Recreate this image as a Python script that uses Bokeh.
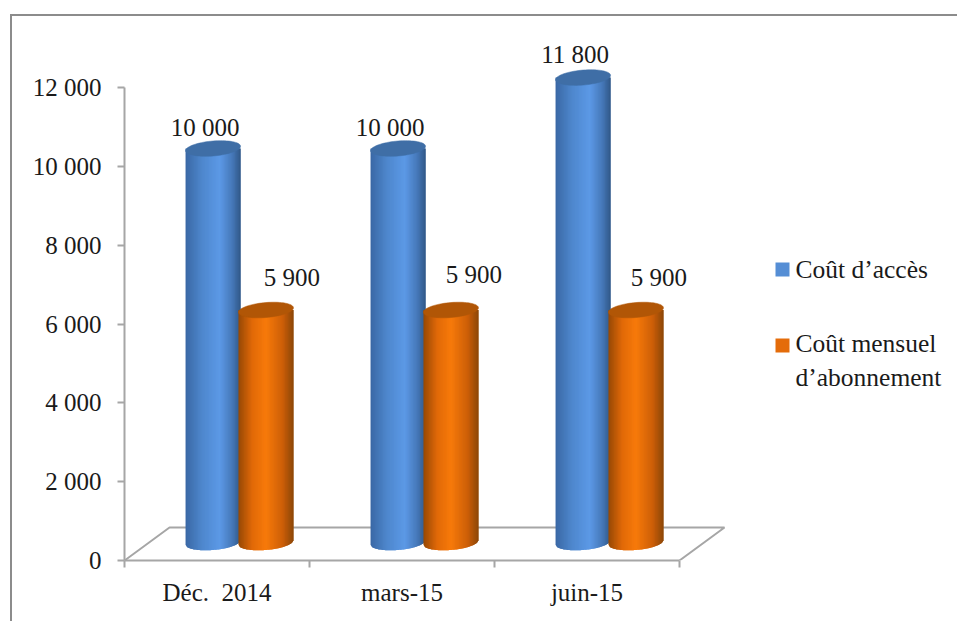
from bokeh.plotting import figure
from bokeh.embed import file_html
from bokeh.resources import INLINE
from bokeh.core.properties import value
from bokeh.models import ColumnDataSource, FixedTicker, Range1d
import math

# ---- data ----
categories = ["Déc.\u00a0 2014", "mars-15", "juin-15"]
cout_acces = [10000, 10000, 11800]
cout_mensuel = [5900, 5900, 5900]
series_names = ["Coût d’accès", "Coût mensuel\nd’abonnement"]
y_ticks = [0, 2000, 4000, 6000, 8000, 10000, 12000]
y_labels = ["0", "2 000", "4 000", "6 000", "8 000", "10 000", "12 000"]
label_texts_a = ["10 000", "10 000", "11 800"]
label_texts_b = ["5 900", "5 900", "5 900"]

# ---- layout of the pseudo 3D drawing (data units) ----
FONT = "Liberation Serif"
FS = "25px"
GREY = "#a6a6a6"
TXT = "#1a1a1a"
PX_X = 185.0      # px per category
PX_Y = 0.0394     # px per value unit
W, H = 957, 621
LEFT, BOTTOM = 124, 61
DEPTH_X = 45 / PX_X
DEPTH_Y = 33 / PX_Y
BASE = 457        # floor position of bar base
BAR_W = 55 / PX_X
OFF_A, OFF_B = 0.33, 0.616
CAP_B = 7.5 / PX_Y
TILT = 2.2 / PX_Y
N = 40

p = figure(width=W, height=H, output_backend="svg", toolbar_location=None,
           x_range=Range1d(0, (W - LEFT) / PX_X), y_range=Range1d(0, (H - BOTTOM) / PX_Y),
           min_border_left=LEFT, min_border_bottom=BOTTOM, min_border_top=0, min_border_right=0)
p.outline_line_color = None
p.grid.visible = False
# chart border (left and top sides; it runs past the page edge)
p.stylesheets = [":host::before{content:'';position:absolute;left:10px;top:14px;width:947px;height:607px;"
                 "box-sizing:border-box;border-left:2px solid #8c8c8c;border-top:2px solid #8c8c8c;"
                 "pointer-events:none;z-index:5;}"]

# floor
fx = [0, DEPTH_X, 3 + DEPTH_X, 3]
fy = [0, DEPTH_Y, DEPTH_Y, 0]
p.line(fx, fy, line_color=GREY, line_width=2)


def mix(a, b, t):
    return tuple(a[i] + (b[i] - a[i]) * t for i in range(3))


def hexc(c):
    return "#%02x%02x%02x" % tuple(int(round(v)) for v in c)


def shade(stops, t):
    for (t0, c0), (t1, c1) in zip(stops, stops[1:]):
        if t <= t1:
            return hexc(mix(c0, c1, (t - t0) / (t1 - t0)))
    return hexc(stops[-1][1])


BLUE = [(0, (58, 104, 165)), (0.3, (78, 135, 205)), (0.62, (92, 153, 230)), (0.85, (70, 120, 185)), (1, (48, 88, 135))]
ORANGE = [(0, (150, 72, 5)), (0.25, (225, 105, 8)), (0.5, (247, 122, 10)), (0.8, (205, 95, 8)), (1, (140, 70, 8))]
CAP_BLUE = "#3f6ea6"
CAP_ORANGE = "#b15606"


def low(u):
    return BASE - CAP_B * math.sqrt(max(0, 1 - u * u)) + TILT * u


def cylinder(x_left, val, stops, cap):
    xs, ys, cols = [], [], []
    top = BASE + val
    for i in range(N):
        # each strip reaches under the next one so no seams show
        j = min(i + 2, N)
        us = [-1 + 2 * k / N for k in range(i, j + 1)]
        px = [x_left + (u + 1) / 2 * BAR_W for u in us]
        xs.append(px + [px[-1], px[0]])
        ys.append([low(u) for u in us] + [top, top])
        cols.append(shade(stops, (i + 0.5) / N))
    src = ColumnDataSource(dict(xs=xs, ys=ys, c=cols))
    p.patches("xs", "ys", source=src, fill_color="c", line_color=None)
    cx = []
    cy = []
    for k in range(73):
        th = 2 * math.pi * k / 72
        cx.append(x_left + BAR_W / 2 + BAR_W / 2 * math.cos(th))
        cy.append(BASE + val + CAP_B * math.sin(th) + TILT * math.cos(th))
    p.patch(cx, cy, fill_color=cap, line_color=cap, line_width=0.5)


for i in range(len(categories)):
    cylinder(i + OFF_A, cout_acces[i], BLUE, CAP_BLUE)
    cylinder(i + OFF_B, cout_mensuel[i], ORANGE, CAP_ORANGE)

# value labels
lab_x, lab_y, lab_t, lab_dx, lab_dy = [], [], [], [], []
dx_a, dy_a = [-8, -8, -8], [21, 21, 23]
dx_b, dy_b = [26, 23, 23], [33, 36, 33]
for i in range(len(categories)):
    lab_x += [i + OFF_A + BAR_W / 2, i + OFF_B + BAR_W / 2]
    lab_y += [BASE + cout_acces[i], BASE + cout_mensuel[i]]
    lab_t += [label_texts_a[i], label_texts_b[i]]
    lab_dx += [dx_a[i], dx_b[i]]
    lab_dy += [-dy_a[i], -dy_b[i]]
src = ColumnDataSource(dict(x=lab_x, y=lab_y, t=lab_t, dx=lab_dx, dy=lab_dy))
p.text("x", "y", text="t", source=src, x_offset="dx", y_offset="dy", text_align="center",
       text_baseline="middle", text_font=value(FONT), text_font_size=FS, text_color=TXT)

# axes
ya = p.yaxis[0]
ya.ticker = FixedTicker(ticks=y_ticks)
ya.major_label_overrides = {t: l for t, l in zip(y_ticks, y_labels)}
ya.bounds = (0, 12000)
ya.axis_line_color = GREY
ya.axis_line_width = 2
ya.major_tick_line_color = GREY
ya.major_tick_line_width = 2
ya.major_tick_in = 0
ya.major_tick_out = 7
ya.minor_tick_line_color = None
ya.major_label_standoff = 16
ya.major_label_text_font = FONT
ya.major_label_text_font_size = FS
ya.major_label_text_color = TXT

xa = p.xaxis[0]
centers = [i + 0.5 for i in range(len(categories))]
xa.ticker = FixedTicker(ticks=centers, minor_ticks=list(range(len(categories) + 1)))
xa.major_label_overrides = {c: l for c, l in zip(centers, categories)}
xa.bounds = (0, 3)
xa.axis_line_color = GREY
xa.axis_line_width = 2
xa.major_tick_line_color = None
xa.major_tick_in = 0
xa.major_tick_out = 0
xa.minor_tick_line_color = GREY
xa.minor_tick_line_width = 2
xa.minor_tick_in = 0
xa.minor_tick_out = 7
xa.major_label_standoff = 11
xa.major_label_text_font = FONT
xa.major_label_text_font_size = FS
xa.major_label_text_color = TXT


# legend, drawn by hand: Bokeh centres a swatch on a two-line label, the reference puts it on the first line
def dx(px):
    return (px - LEFT) / PX_X


def dy(px):
    return (H - BOTTOM - px) / PX_Y


LEG_COL = ["#558ed5", "#e46c0a"]
sw_top = [262, 338]
txt_mid = [269, 360]
p.quad(left=[dx(775)] * 2, right=[dx(789)] * 2,
       top=[dy(t) for t in sw_top], bottom=[dy(t + 14) for t in sw_top],
       fill_color=LEG_COL, line_color=None)
p.text([dx(795)] * 2, [dy(t) for t in txt_mid], text=series_names,
       text_align="left", text_baseline="middle", text_font=value(FONT), text_font_size="25.5px",
       text_line_height=1.18, text_color=TXT)

open("out.html", "w").write(file_html(p, INLINE))
